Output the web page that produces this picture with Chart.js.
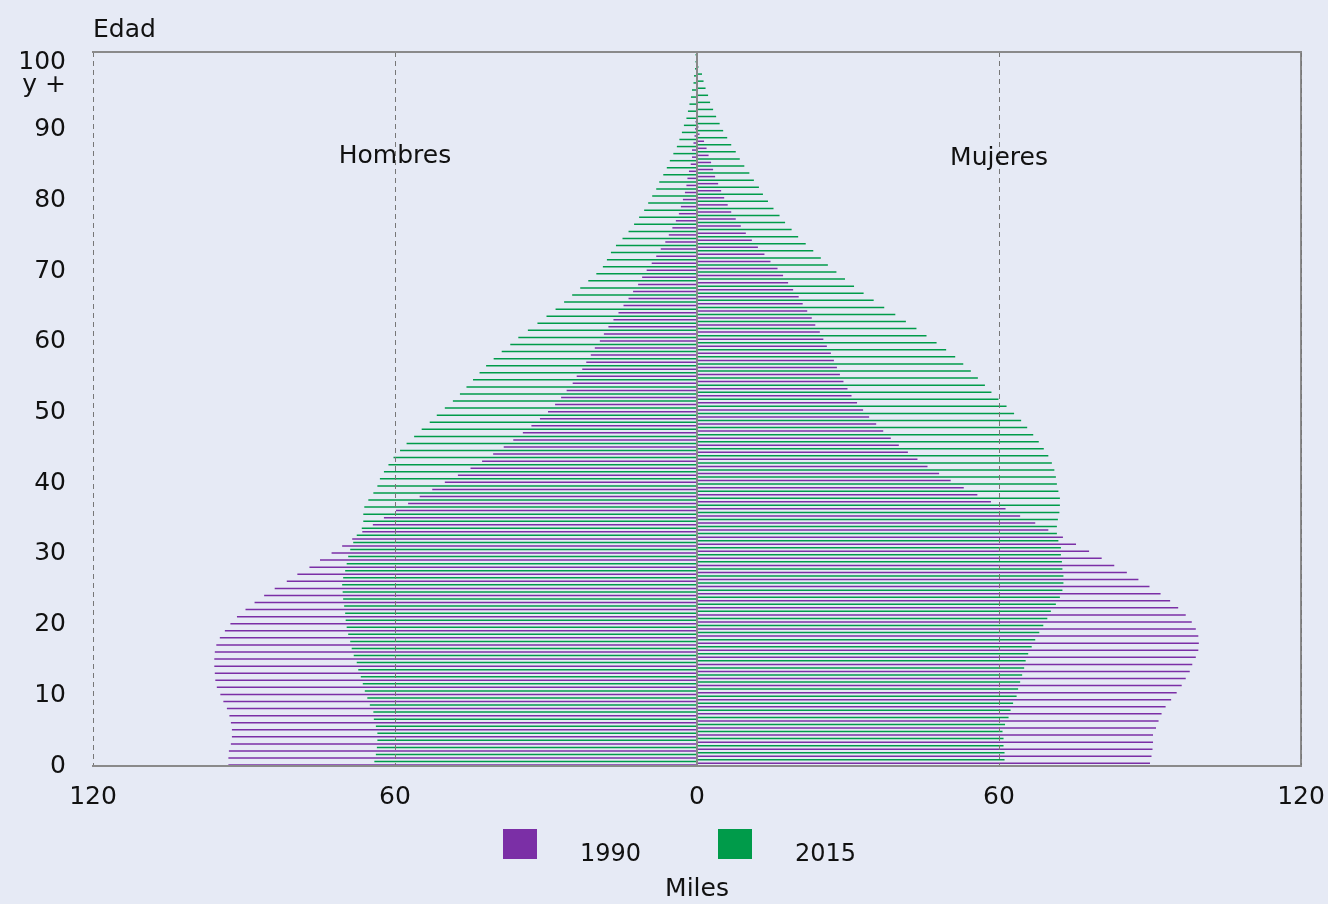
<!DOCTYPE html>
<html>
<head>
<meta charset="utf-8">
<script src="https://cdn.jsdelivr.net/npm/chart.js@4.4.1/dist/chart.umd.min.js"></script>
<style>
  html, body { margin: 0; padding: 0; background: #e6eaf5; }
  #caja { width: 1328px; height: 904px; }
</style>
</head>
<body>
<div id="caja"><canvas id="piramide"></canvas></div>
<script>
// edades simples 0..100 (la ultima es "100 y +")
const edades = Array.from({ length: 101 }, (_, i) => String(i));
const marcasEdad = [0, 10, 20, 30, 40, 50, 60, 70, 80, 90, 100];
const marcasMiles = [-120, -60, 0, 60, 120];
const anios = ['1990', '2015'];
const colores = ['#7b2fa6', '#009b4a'];

// miles de personas
const hombres1990 = [
  93.1, 93.1, 93.0, 92.6, 92.4, 92.4, 92.6, 92.9, 93.4, 94.1,
  94.7, 95.4, 95.7, 95.8, 95.9, 95.9, 95.8, 95.5, 94.8, 93.8,
  92.7, 91.4, 89.7, 87.9, 86.0, 83.9, 81.5, 79.4, 77.0, 74.9,
  72.6, 70.5, 68.5, 66.5, 64.4, 62.2, 59.8, 57.4, 55.1, 52.6,
  50.1, 47.5, 45.0, 42.7, 40.5, 38.4, 36.5, 34.6, 32.9, 31.2,
  29.6, 28.2, 27.0, 25.9, 24.7, 23.9, 22.8, 22.0, 21.1, 20.3,
  19.3, 18.5, 17.6, 16.6, 15.6, 14.6, 13.6, 12.7, 11.7, 10.9,
  10.0, 9.0, 8.1, 7.2, 6.3, 5.6, 4.9, 4.2, 3.6, 3.2,
  2.8, 2.4, 2.1, 1.9, 1.6, 1.25, 1.0, 1.0, 0.7, 0.5,
  0.4, 0.3, 0.2, 0.2, 0.1, 0.1, 0.1, 0.05, 0.05, 0.05, 0.1
];
const mujeres1990 = [
  90.0, 90.3, 90.5, 90.6, 90.6, 91.2, 91.7, 92.3, 93.1, 94.2,
  95.3, 96.3, 97.1, 97.9, 98.4, 99.1, 99.6, 99.7, 99.6, 99.1,
  98.3, 97.1, 95.6, 94.0, 92.1, 89.9, 87.7, 85.4, 82.9, 80.4,
  77.9, 75.3, 72.7, 69.8, 67.2, 64.2, 61.3, 58.4, 55.7, 53.0,
  50.4, 48.1, 45.8, 43.8, 41.9, 40.1, 38.5, 37.0, 35.6, 34.2,
  33.0, 31.8, 30.7, 29.9, 29.1, 28.4, 27.8, 27.2, 26.6, 25.8,
  25.1, 24.4, 23.5, 22.8, 21.9, 21.0, 20.2, 19.1, 18.1, 17.1,
  16.0, 14.6, 13.4, 12.1, 10.9, 9.7, 8.7, 7.7, 6.8, 6.1,
  5.4, 4.8, 4.2, 3.6, 3.2, 2.8, 2.3, 1.9, 1.4, 0.5,
  0.3, 0.2, 0.2, 0.1, 0.1, 0.1, 0.05, 0.05, 0.05, 0.05, 0.1
];
const hombres2015 = [
  64.1, 63.8, 63.6, 63.5, 63.5, 63.8, 64.2, 64.3, 65.0, 65.5,
  66.0, 66.4, 66.8, 67.3, 67.6, 68.2, 68.6, 68.9, 69.3, 69.6,
  69.8, 69.9, 70.1, 70.3, 70.4, 70.5, 70.3, 69.9, 69.6, 69.3,
  68.9, 68.3, 67.6, 66.6, 66.3, 66.3, 66.1, 65.3, 64.3, 63.5,
  63.0, 62.2, 61.3, 60.3, 59.0, 57.7, 56.2, 54.7, 53.1, 51.7,
  50.1, 48.5, 47.1, 45.8, 44.5, 43.2, 41.9, 40.4, 38.8, 37.1,
  35.5, 33.6, 31.7, 29.9, 28.1, 26.4, 24.8, 23.2, 21.6, 20.0,
  18.7, 17.9, 17.1, 16.1, 14.8, 13.6, 12.5, 11.5, 10.5, 9.7,
  8.9, 8.1, 7.5, 6.7, 6.0, 5.4, 4.7, 4.0, 3.5, 3.0,
  2.6, 2.1, 1.8, 1.5, 1.2, 1.0, 0.7, 0.6, 0.4, 0.3, 0.3
];
const mujeres2015 = [
  61.1, 61.1, 60.9, 60.9, 60.7, 61.2, 61.9, 62.3, 62.8, 63.5,
  63.8, 64.2, 64.6, 65.0, 65.3, 65.8, 66.5, 67.2, 68.0, 68.8,
  69.6, 70.3, 71.3, 72.1, 72.6, 72.8, 72.8, 72.6, 72.5, 72.3,
  72.3, 71.8, 71.5, 71.5, 71.7, 72.0, 72.1, 72.1, 71.8, 71.5,
  71.3, 71.0, 70.5, 69.8, 68.9, 67.9, 66.8, 65.6, 64.4, 63.0,
  61.5, 59.9, 58.5, 57.2, 55.8, 54.4, 52.9, 51.3, 49.5, 47.6,
  45.6, 43.6, 41.5, 39.4, 37.2, 35.1, 33.1, 31.2, 29.4, 27.7,
  26.0, 24.6, 23.1, 21.6, 20.1, 18.8, 17.5, 16.4, 15.2, 14.1,
  13.1, 12.3, 11.3, 10.4, 9.4, 8.5, 7.7, 6.8, 6.0, 5.2,
  4.5, 3.8, 3.2, 2.6, 2.2, 1.7, 1.3, 1.0, 0.3, 0.2, 0.2
];

Chart.defaults.font.family = '"DejaVu Sans", sans-serif';
Chart.defaults.font.size = 25;
Chart.defaults.color = '#111';

// textos dentro del grafico y leyenda
const rotulos = {
  id: 'rotulos',
  afterDraw(chart) {
    const { ctx, chartArea, scales } = chart;
    ctx.save();
    ctx.fillStyle = '#111';
    ctx.font = '25px "DejaVu Sans"';
    ctx.textAlign = 'center';
    ctx.textBaseline = 'middle';
    const yTexto = scales.yl.getPixelForValue(86.2);
    ctx.fillText('Hombres', scales.x.getPixelForValue(-60), yTexto);
    ctx.fillText('Mujeres', scales.x.getPixelForValue(60), yTexto + 2);

    const cx = (chartArea.left + chartArea.right) / 2;
    ctx.font = '24px "DejaVu Sans"';
    ctx.textAlign = 'left';
    anios.forEach((anio, i) => {
      const x0 = cx - 194 + i * 215;
      ctx.fillStyle = colores[i];
      ctx.fillRect(x0, chartArea.bottom + 63, 34, 30);
      ctx.fillStyle = '#111';
      ctx.fillText(anio, x0 + 77, chartArea.bottom + 89);
    });
    ctx.restore();
  }
};

const lienzo = document.getElementById('piramide');

new Chart(lienzo, {
  type: 'bar',
  data: {
    labels: edades,
    datasets: [
      { label: '2015', data: mujeres2015, backgroundColor: colores[1] },
      { label: '2015', data: hombres2015.map(v => -v), backgroundColor: colores[1] },
      { label: '1990', data: mujeres1990, backgroundColor: colores[0] },
      { label: '1990', data: hombres1990.map(v => -v), backgroundColor: colores[0] }
    ]
  },
  options: {
    indexAxis: 'y',
    responsive: true,
    maintainAspectRatio: false,
    animation: false,
    datasets: {
      bar: {
        xAxisID: 'x',
        yAxisID: 'y',
        categoryPercentage: 1,
        barPercentage: 0.85,
        borderWidth: 0
      }
    },
    layout: { padding: { left: 16, right: 27, top: 0, bottom: 0 } },
    plugins: {
      legend: { display: false },
      tooltip: { enabled: false },
      title: {
        display: true,
        text: 'Edad',
        align: 'start',
        fullSize: false,
        padding: { top: 15, bottom: 7 },
        font: { size: 25, weight: 'normal' },
        color: '#111'
      }
    },
    scales: {
      y: { type: 'category', reverse: true, display: false },
      yl: {
        type: 'linear',
        position: 'left',
        offset: false,
        min: 0,
        max: 101,
        afterBuildTicks: (escala) => {
          // la etiqueta de dos lineas "100 / y +" va un poco mas abajo
          escala.ticks = marcasEdad.map(v => ({ value: v === 100 ? 97.9 : v }));
        },
        afterFit: (escala) => { escala.width = 77; },
        ticks: {
          padding: 27,
          font: { lineHeight: 0.95 },
          callback: (v) => v > 95 ? ['100', 'y +'] : v
        },
        grid: { display: false, drawTicks: false },
        border: { display: false }
      },
      yr: {
        type: 'linear',
        position: 'right',
        offset: false,
        min: 0,
        max: 101,
        afterFit: (escala) => { escala.width = 0; },
        ticks: { display: false },
        grid: { display: false, drawTicks: false },
        border: { display: true, color: '#8a8a8a', width: 2 }
      },
      x: {
        type: 'linear',
        position: 'bottom',
        min: -120,
        max: 120,
        afterBuildTicks: (escala) => {
          escala.ticks = marcasMiles.map(v => ({ value: v }));
        },
        afterFit: (escala) => {
          escala.height = 138;
          escala.paddingLeft = 0;
          escala.paddingRight = 0;
        },
        ticks: {
          padding: 16,
          callback: (v) => Math.abs(v)
        },
        grid: {
          color: (c) => c.tick && c.tick.value === 0 ? 'rgba(0,0,0,0)' : '#777',
          lineWidth: 1,
          drawTicks: false,
          z: 1
        },
        border: { display: true, color: '#8a8a8a', width: 2, dash: [5, 4], z: 1 },
        title: {
          display: true,
          text: 'Miles',
          padding: { top: 62, bottom: 0 },
          font: { size: 25 }
        }
      },
      xt: {
        type: 'linear',
        position: 'top',
        min: -120,
        max: 120,
        afterBuildTicks: (escala) => {
          escala.ticks = marcasMiles.map(v => ({ value: v }));
        },
        afterFit: (escala) => { escala.height = 0; },
        ticks: { display: false },
        grid: {
          color: (c) => c.tick && c.tick.value === 0 ? '#888' : 'rgba(0,0,0,0)',
          lineWidth: 2,
          drawTicks: false,
          z: 1
        },
        border: { display: true, color: '#8a8a8a', width: 2, z: 1 }
      }
    }
  },
  plugins: [rotulos]
});
</script>
</body>
</html>
